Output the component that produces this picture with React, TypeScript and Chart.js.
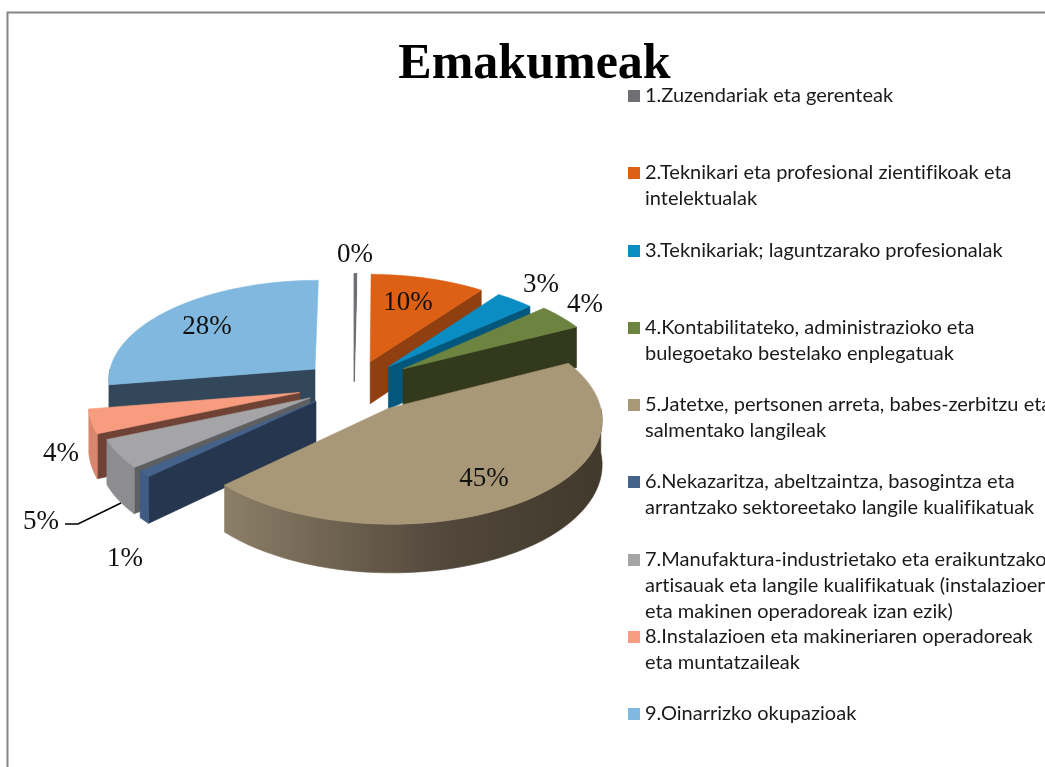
import React, { useEffect, useRef } from "react";
import { Chart, registerables } from "chart.js";

Chart.register(...registerables);

const legendLines: string[][] = [
  ["1.Zuzendariak eta gerenteak"],
  ["2.Teknikari eta profesional zientifikoak eta", "intelektualak"],
  ["3.Teknikariak; laguntzarako profesionalak"],
  ["4.Kontabilitateko, administrazioko eta", "bulegoetako bestelako enplegatuak"],
  ["5.Jatetxe, pertsonen arreta, babes-zerbitzu eta", "salmentako langileak"],
  ["6.Nekazaritza, abeltzaintza, basogintza eta", "arrantzako sektoreetako langile kualifikatuak"],
  ["7.Manufaktura-industrietako eta eraikuntzako", "artisauak eta langile kualifikatuak (instalazioen", "eta makinen operadoreak izan ezik)"],
  ["8.Instalazioen eta makineriaren operadoreak", "eta muntatzaileak"],
  ["9.Oinarrizko okupazioak"],
];
const values = [0.2, 9.9, 3.3, 4.15, 45.45, 1.0, 4.6, 3.85, 27.55];
const explode = [0.25, 0.25, 0.25, 0.29, 0.28, 0.24, 0.245, 0.27, 0.25];
const topColors = ["#6e6f73", "#dd6015", "#0a8dc3", "#6c843f", "#a99877", "#44628a", "#a5a5a7", "#f89c80", "#80b8df"];
const cutColors = ["#55565a", "#8f3f10", "#04577c", "#33391c", "#42392d", "#27364f", "#5e5f61", "#6f4236", "#33475a"];
const rimColors = ["#55565a", "#8f3f10", "#04577c", "#33391c", "#6b5f4d", "#3f5c84", "#8d8d8f", "#d8866e", "#33475a"];
const paintOrder = [8, 0, 1, 2, 3, 7, 6, 5, 4];
const labelCentres = [
  [355, 255], [408, 303], [541, 285], [585, 305], [484, 479],
  [125, 559], [41, 522], [61, 454], [207, 327],
];

const VIEW = { cx: 354, cy: 385, a: 208, b: 100, k: 0.095, depth: 43 };

function project(x: number, y: number, z: number): [number, number] {
  const w = 1 + VIEW.k * y;
  return [VIEW.cx + (VIEW.a * x) / w, VIEW.cy - (VIEW.b * y) / w + (VIEW.depth * z) / w];
}

const piePlugin = {
  id: "pie3d",
  beforeDatasetsDraw(chart: any) {
    const ctx: CanvasRenderingContext2D = chart.ctx;
    const arcs = chart.getDatasetMeta(0).data;
    ctx.save();
    for (const i of paintOrder) {
      const el = arcs[i];
      const s = el.startAngle;
      const e = el.endAngle;
      const m = (s + e) / 2;
      const off = el.options.offset / 100;
      const ax = off * Math.cos(m);
      const ay = -off * Math.sin(m);
      const rim = (t: number, z: number) => project(ax + Math.cos(t), ay - Math.sin(t), z);
      const apex = (z: number) => project(ax, ay, z);
      const z = e - s < 0.02 ? 0.5 : 1;
      const poly = (pts: [number, number][], fill: any) => {
        ctx.beginPath();
        pts.forEach((p, n) => (n ? ctx.lineTo(p[0], p[1]) : ctx.moveTo(p[0], p[1])));
        ctx.closePath();
        ctx.fillStyle = fill;
        ctx.fill();
        ctx.strokeStyle = fill;
        ctx.lineWidth = 0.6;
        ctx.stroke();
      };
      if (Math.cos(s) < -0.001) poly([apex(0), rim(s, 0), rim(s, z), apex(z)], cutColors[i]);
      if (Math.cos(e) > 0.001) poly([apex(0), rim(e, 0), rim(e, z), apex(z)], cutColors[i]);
      // visible part of the outer wall: the rim on the front half (angle 0..PI in canvas terms)
      const from = Math.max(s, 0);
      const to = Math.min(e, Math.PI);
      if (to > from) {
        const up: [number, number][] = [];
        const down: [number, number][] = [];
        for (let n = 0; n <= 48; n++) {
          const t = from + ((to - from) * n) / 48;
          up.push(rim(t, 0));
          down.unshift(rim(t, z));
        }
        let fill: any = rimColors[i];
        if (i === 4) {
          const g = ctx.createLinearGradient(222, 0, 602, 0);
          g.addColorStop(0, "#8d7f69");
          g.addColorStop(0.3, "#6e6250");
          g.addColorStop(0.6, "#50463a");
          g.addColorStop(1, "#42392d");
          fill = g;
        }
        poly([...up, ...down], fill);
      }
      const topPts: [number, number][] = [apex(0)];
      for (let n = 0; n <= 64; n++) topPts.push(rim(s + ((e - s) * n) / 64, 0));
      poly(topPts, topColors[i]);
      if (e - s < 0.02) {
        ctx.beginPath();
        ctx.moveTo(rim(s, 0)[0], rim(s, 0)[1]);
        ctx.lineTo(apex(z)[0], apex(z)[1]);
        ctx.strokeStyle = topColors[i];
        ctx.lineWidth = 1.2;
        ctx.stroke();
      }
    }
    ctx.restore();
    return false;
  },
  afterDraw(chart: any) {
    const ctx: CanvasRenderingContext2D = chart.ctx;
    const data: number[] = chart.data.datasets[0].data;
    const total = data.reduce((p, c) => p + c, 0);
    ctx.save();
    // frame
    ctx.strokeStyle = "#868686";
    ctx.lineWidth = 2;
    ctx.beginPath();
    ctx.moveTo(7.5, 767);
    ctx.lineTo(7.5, 12.5);
    ctx.lineTo(1045, 12.5);
    ctx.stroke();
    // leader line
    ctx.strokeStyle = "#000";
    ctx.lineWidth = 1.5;
    ctx.beginPath();
    ctx.moveTo(65, 524);
    ctx.lineTo(78, 524);
    ctx.lineTo(121, 503);
    ctx.stroke();
    // value labels
    ctx.fillStyle = "#111";
    ctx.font = '27px "Liberation Serif"';
    ctx.textAlign = "center";
    ctx.textBaseline = "middle";
    data.forEach((v, i) => {
      ctx.fillText(Math.round((v / total) * 100) + "%", labelCentres[i][0], labelCentres[i][1]);
    });
    // legend
    ctx.textAlign = "left";
    ctx.textBaseline = "alphabetic";
    ctx.font = "20px Lato";
    (ctx as any).letterSpacing = "0.01px";
    (chart.data.labels as string[][]).forEach((lines, i) => {
      const top = 90 + i * 77.25;
      ctx.fillStyle = topColors[i];
      ctx.fillRect(628, Math.round(top), 12, 12);
      ctx.fillStyle = "#1a1a1a";
      lines.forEach((t, n) => ctx.fillText(t, 645, top + 12 + n * 26));
    });
    ctx.restore();
  },
};

export default function App() {
  const ref = useRef<HTMLCanvasElement>(null);
  useEffect(() => {
    const chart = new Chart(ref.current as HTMLCanvasElement, {
      type: "pie",
      data: {
        labels: legendLines as any,
        datasets: [{ data: values, backgroundColor: topColors, offset: explode.map((e) => e * 100), borderWidth: 0 }],
      },
      options: {
        responsive: false,
        animation: false,
        layout: { padding: { left: 24, top: 21 } },
        plugins: {
          legend: { display: false },
          tooltip: { enabled: false },
          title: {
            display: true,
            text: "Emakumeak",
            fullSize: false,
            color: "#000",
            font: { family: '"Liberation Serif"', size: 50, weight: "bold" },
            padding: { top: 14, bottom: 10 },
          },
        },
      } as any,
      plugins: [piePlugin as any],
    });
    return () => chart.destroy();
  }, []);
  return (
    <div style={{ position: "fixed", left: 0, top: 0, width: 1045, height: 767, overflow: "hidden", background: "#fff" }}>
      <canvas ref={ref} width={1045} height={767} style={{ display: "block" }} />
    </div>
  );
}
